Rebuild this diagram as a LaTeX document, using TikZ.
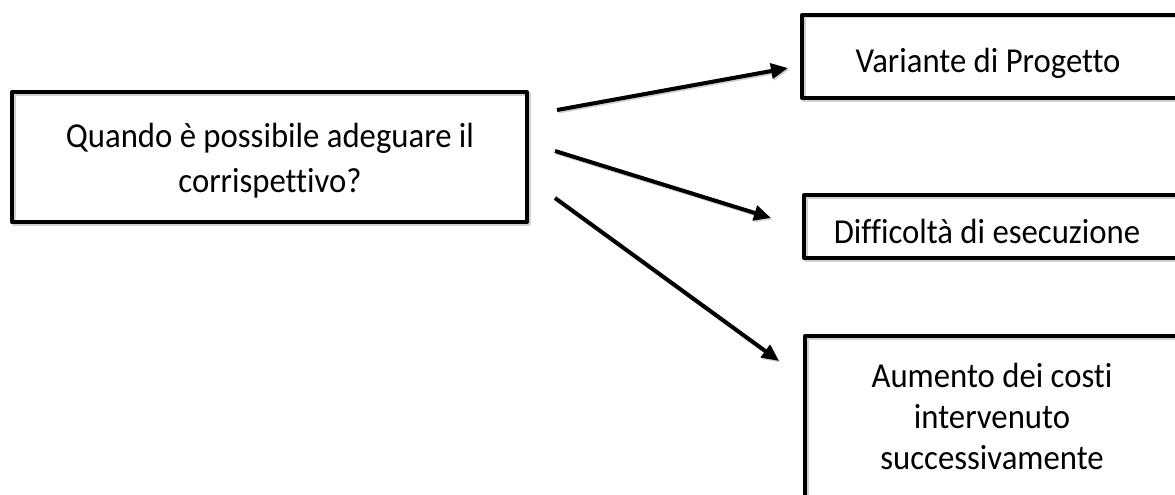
\documentclass[tikz,border=0pt]{standalone}
\usepackage{fontspec}
\setmainfont{Carlito}[FakeStretch=0.935,Ligatures=NoCommon]
\usetikzlibrary{arrows.meta}
\begin{document}
\begin{tikzpicture}[x=1pt,y=-1pt,
  box/.style={draw=black,line width=4pt,line join=round,inner sep=0pt,
    preaction={draw=black!18,line width=4pt,transform canvas={shift={(1.5pt,-1.5pt)}}}},
  txt/.style={font=\fontsize{35}{42}\selectfont,align=center,inner sep=0pt,text=black},
  conn/.style={line width=4pt,-{Triangle[length=17pt,width=15pt]},
    preaction={draw=black!18,line width=4pt,-{Triangle[length=17pt,width=15pt]},transform canvas={shift={(1.5pt,-1.5pt)}}}}
]
\useasboundingbox (0,0) rectangle (1175,495);
\begin{scope}
\clip (0,0) rectangle (1175,495);
% boxes
\node[box,minimum width=515pt,minimum height=130pt] (main) at (269.5,157) {};
\node[box,minimum width=390pt,minimum height=83pt] (boxA) at (997,56.5) {};
\node[box,minimum width=390pt,minimum height=63pt] (boxB) at (999,226.5) {};
\node[box,minimum width=390pt,minimum height=190pt] (boxC) at (1000,431) {};
% texts
\node[txt,anchor=base] (tMain1) at (270,147) {Quando è possibile adeguare il};
\node[txt,anchor=base] (tMain2) at (270,192) {corrispettivo?};
\node[txt,anchor=base] (tA) at (988,73) {Variante di Progetto};
\node[txt,anchor=base] (tB) at (987,243) {Difficoltà di esecuzione};
\node[txt,anchor=base] (tC1) at (992,387) {Aumento dei costi};
\node[txt,anchor=base] (tC2) at (992,428) {intervenuto};
\node[txt,anchor=base] (tC3) at (992,469) {successivamente};
% connector ends
\coordinate (s1) at (557,110);
\coordinate (e1) at (788,68);
\coordinate (s2) at (555,151);
\coordinate (e2) at (771,218);
\coordinate (s3) at (555,198);
\coordinate (e3) at (779,361);
\draw[conn] (s1) -- (e1);
\draw[conn] (s2) -- (e2);
\draw[conn] (s3) -- (e3);
\end{scope}
\end{tikzpicture}
\end{document}
